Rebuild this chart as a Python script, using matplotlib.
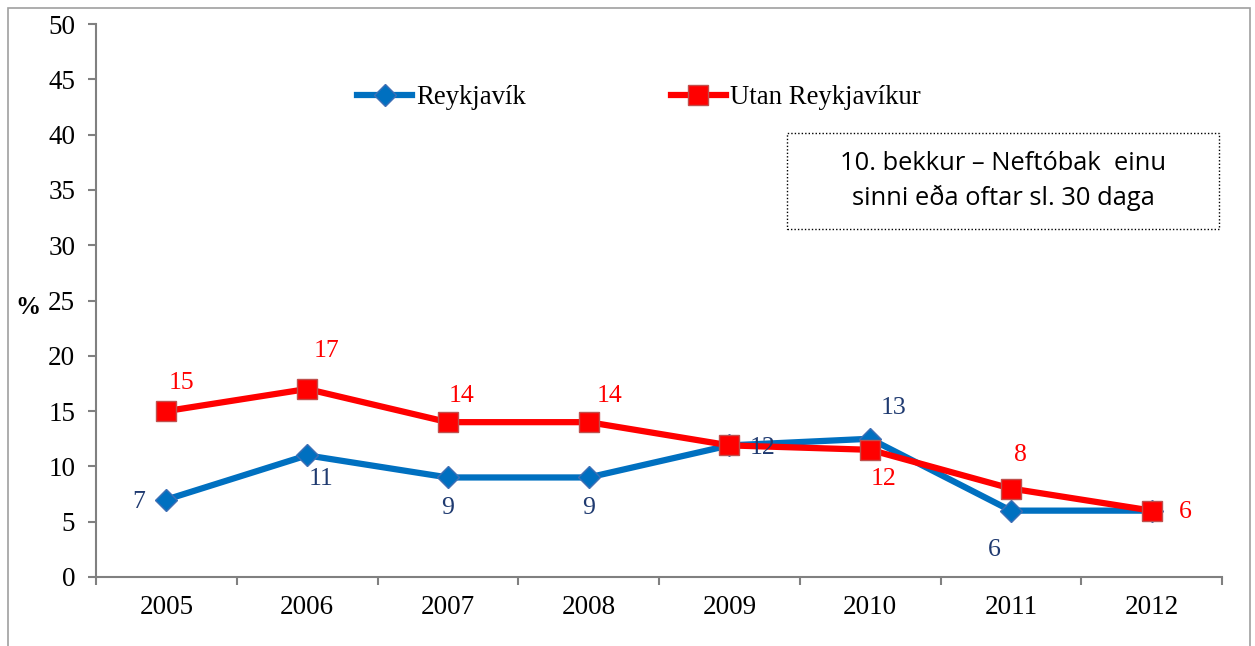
import matplotlib.pyplot as plt
from matplotlib.patches import Rectangle

plt.rcParams['font.family'] = ['Liberation Serif', 'DejaVu Serif']

years = ['2005', '2006', '2007', '2008', '2009', '2010', '2011', '2012']
reykjavik = [7, 11, 9, 9, 11.9, 12.5, 6, 6]
utan = [15, 17, 14, 14, 11.9, 11.5, 8, 6]
reykjavik_labels = ['7', '11', '9', '9', '12', '13', '6', '']
utan_labels = ['15', '17', '14', '14', '', '12', '8', '6']
# label offsets in points (dx, dy)
reykjavik_offsets = [(-20, -2), (10, -17), (0, -22), (0, -22), (24, -2), (17, 22), (-12, -28), (0, 0)]
utan_offsets = [(11, 20), (14, 27), (10, 19), (15, 19), (0, 0), (10, -21), (7, 24), (24, -1)]

blue = '#0070C0'
red = '#FF0000'
navy = '#1F3A70'

fig = plt.figure(figsize=(12.55, 6.46), dpi=100)
ax = fig.add_axes([96 / 1255, 1 - 577 / 646, 1126 / 1255, 553 / 646])

x = list(range(len(years)))
ax.plot(x, reykjavik, color=blue, lw=4.5, marker='D', ms=11,
        markerfacecolor=blue, markeredgecolor='#3F6FB5', label='Reykjavík', zorder=3)
ax.plot(x, utan, color=red, lw=4.5, marker='s', ms=14,
        markerfacecolor=red, markeredgecolor='#C0504D', label='Utan Reykjavíkur', zorder=4)

for i in x:
    if reykjavik_labels[i]:
        dx, dy = reykjavik_offsets[i]
        ax.annotate(reykjavik_labels[i], (i, reykjavik[i]), xytext=(dx, dy),
                    textcoords='offset points', ha='center', va='center',
                    color=navy, fontsize=18.5, zorder=5)
    if utan_labels[i]:
        dx, dy = utan_offsets[i]
        ax.annotate(utan_labels[i], (i, utan[i]), xytext=(dx, dy),
                    textcoords='offset points', ha='center', va='center',
                    color=red, fontsize=18.5, zorder=5)

ax.set_xlim(-0.5, len(years) - 0.5)
ax.set_ylim(0, 50)
ax.set_yticks(range(0, 51, 5))
ax.set_xticks([i - 0.5 for i in range(len(years) + 1)], minor=False)
ax.set_xticklabels([])
ax.set_xticks(x, minor=True)
ax.set_xticklabels(years, minor=True)
ax.tick_params(axis='x', which='minor', length=0, labelsize=19.5, pad=13)
ax.tick_params(axis='x', which='major', length=6, direction='out', color='#808080', width=1.5)
ax.tick_params(axis='y', length=6, direction='out', color='#808080', width=1.5, labelsize=19.5, pad=9)
for s in ['top', 'right']:
    ax.spines[s].set_visible(False)
for s in ['left', 'bottom']:
    ax.spines[s].set_color('#808080')
    ax.spines[s].set_linewidth(1.5)

fig.text(28 / 1255, 1 - 308 / 646, '%', fontsize=18, fontweight='bold', ha='center', va='center')

leg = ax.legend(loc='center', bbox_to_anchor=(0.482, 0.867), ncol=2, frameon=False,
                fontsize=19.3, handlelength=2.05, handletextpad=0.15, columnspacing=5.4)

# text box
box = Rectangle((787 / 1255, 1 - 229 / 646), 432 / 1255, 96 / 646, transform=fig.transFigure,
                fill=False, ls=(0, (1, 1.5)), lw=1, edgecolor='black')
fig.patches.append(box)
fig.text(1003 / 1255, 1 - 181 / 646, '10. bekkur – Neftóbak  einu\nsinni eða oftar sl. 30 daga',
         family=['Open Sans', 'DejaVu Sans'], fontsize=18.4, ha='center', va='center', linespacing=1.45)

# outer frame
frame = Rectangle((8 / 1255, -0.01), 1242 / 1255, 1 - 8 / 646 + 0.01, transform=fig.transFigure,
                  fill=False, lw=1.2, edgecolor='#A0A0A0')
fig.patches.append(frame)

fig.savefig('out.png', dpi=100)
